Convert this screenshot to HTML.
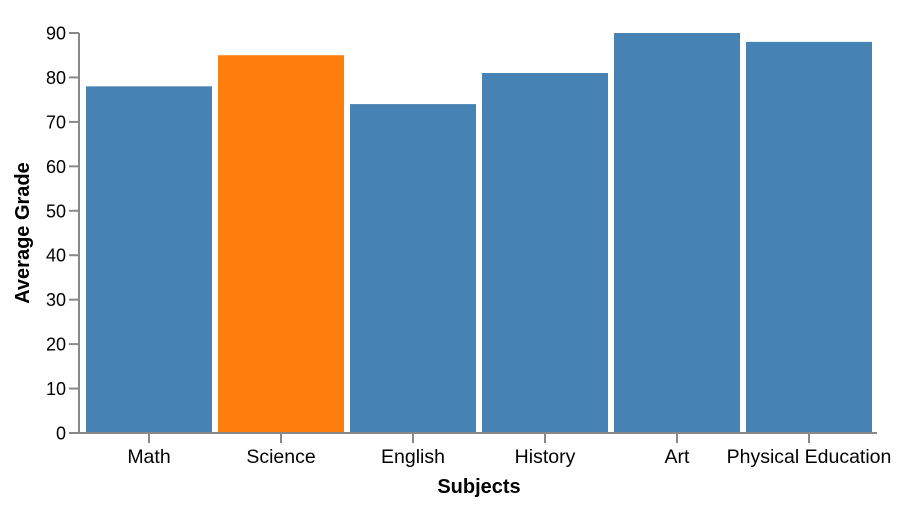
<!DOCTYPE html>
<html><head><meta charset="utf-8"><style>
body{margin:0;background:#fff;font-family:"Liberation Sans",Arial,sans-serif}
svg text{font-family:"Liberation Sans",Arial,sans-serif}
</style></head><body>
<svg id="chart" width="904" height="506"></svg>
<script>
const categories=["Math","Science","English","History","Art","Physical Education"];
const grades=[78,85,74,81,90,88];
const highlighted=["Science"];
const yTicks=[0,10,20,30,40,50,60,70,80,90];
const svg=document.getElementById('chart');
const NS='http://www.w3.org/2000/svg';
const ax=79,y0=433,ppu=400/90,step=132;
const y=v=>y0-v*ppu;
const xb=i=>86+i*step;
function mk(t,a,p){const e=document.createElementNS(NS,t);for(const k in a)e.setAttribute(k,a[k]);(p||svg).appendChild(e);return e;}
categories.forEach((c,i)=>{
 const r=mk('rect',{x:xb(i),y:y(grades[i]),width:126,height:grades[i]*ppu,fill:highlighted.includes(c)?'#ff7f0e':'#4682b4'});
 
 
 mk('line',{x1:xb(i)+63,x2:xb(i)+63,y1:y0,y2:y0+10,stroke:'#888','stroke-width':2});
 const t=mk('text',{x:xb(i)+63,y:y0+30,'text-anchor':'middle','font-size':19.5,fill:'#000'});
 t.textContent=c;
 
 
});
yTicks.forEach(v=>{
 mk('line',{x1:ax-10,x2:ax,y1:y(v),y2:y(v),stroke:'#888','stroke-width':2});
 const t=mk('text',{x:ax-13,y:y(v)+6.5,'text-anchor':'end','font-size':18,fill:'#000'});
 t.textContent=v;
 
 
});
const ya=mk('line',{x1:ax,x2:ax,y1:y(90),y2:y0+1,stroke:'#888','stroke-width':2});


const xa=mk('line',{x1:ax,x2:877,y1:y0,y2:y0,stroke:'#888','stroke-width':2});


const xt=mk('text',{x:479,y:493,'text-anchor':'middle','font-size':20,'font-weight':'bold'});
xt.textContent='Subjects';


const yt=mk('text',{x:0,y:0,'text-anchor':'middle','font-size':20,'font-weight':'bold',transform:'translate(29,233) rotate(-90)'});
yt.textContent='Average Grade';


</script>
</body></html>
